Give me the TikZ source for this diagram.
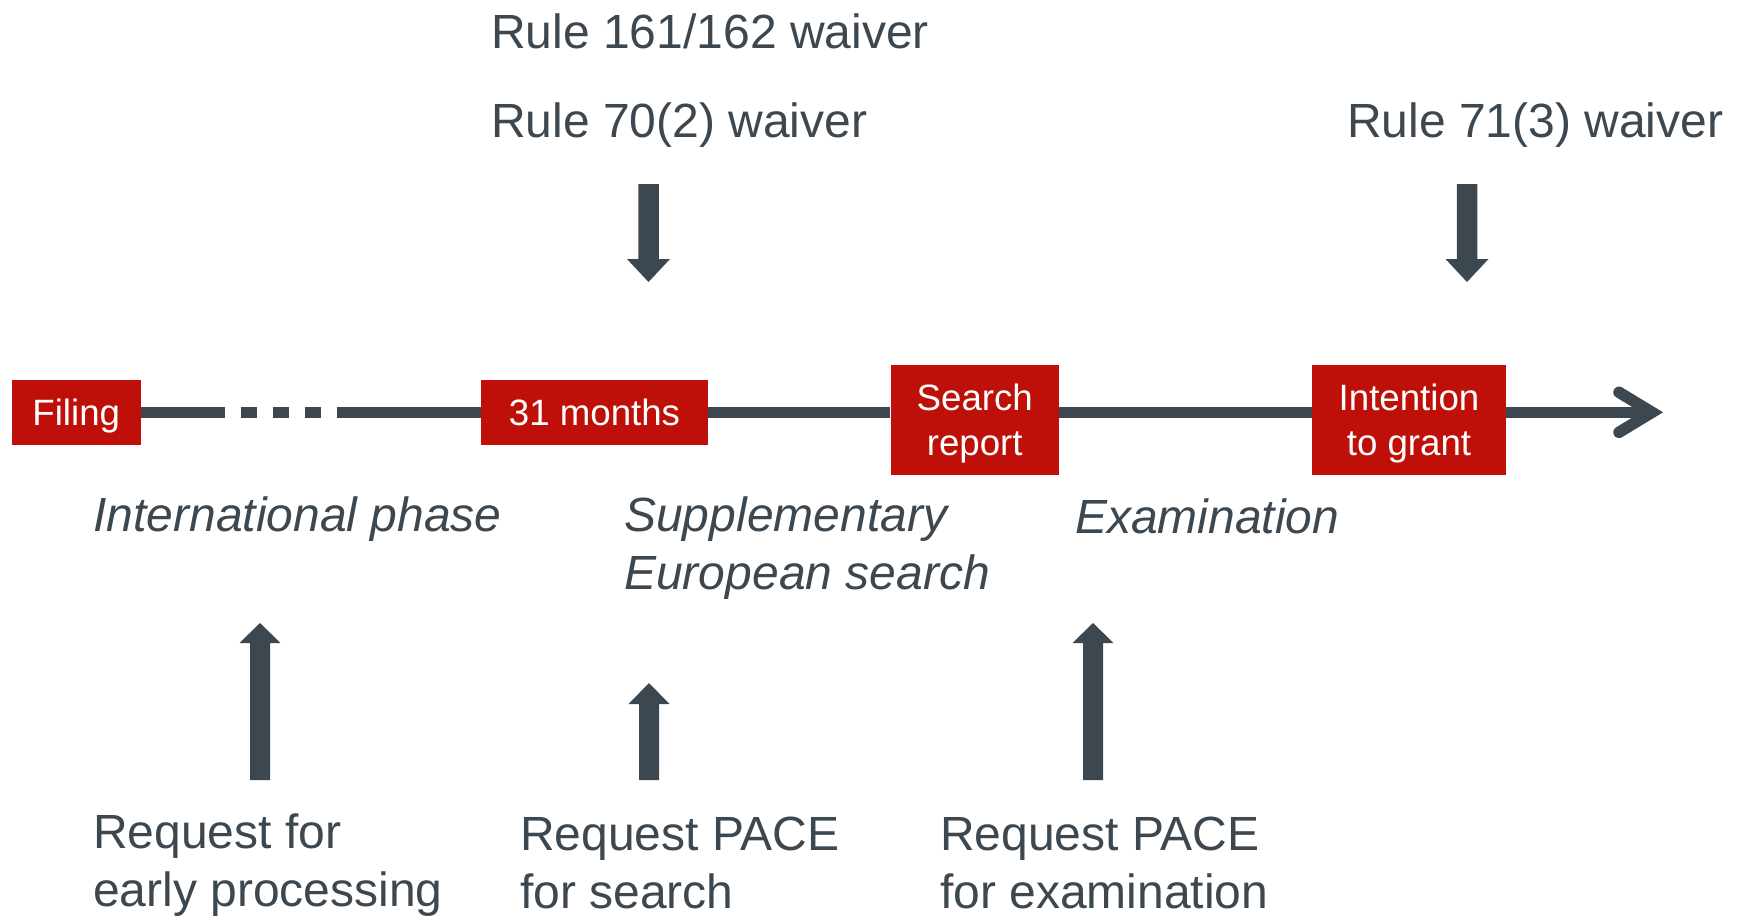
\documentclass[tikz,border=0pt]{standalone}
\usepackage{fontspec}
\setmainfont{Liberation Sans}
\usetikzlibrary{calc}
\definecolor{dk}{RGB}{60,71,80}
\definecolor{epored}{RGB}{190,16,8}
\begin{document}
\begin{tikzpicture}[x=0.75pt,y=-0.75pt,
  lbl/.style={anchor=base west, inner sep=0pt, text=dk, font=\fontsize{36}{43.5}\selectfont},
  ilbl/.style={anchor=base west, inner sep=0pt, text=dk, font=\fontsize{36}{43.5}\selectfont\itshape},
  box/.style={fill=epored, text=white, inner sep=0pt, align=center, text depth=0pt, font=\fontsize{27.5}{33.5}\selectfont},
  tl/.style={draw=dk, line width=8.6pt}]
\useasboundingbox (0,0) rectangle (1742,915);
\fill[white] (0,0) rectangle (1742,915);

% boxes on the timeline
\node[box, minimum width=96.4pt, minimum height=48.5pt] (filing) at (76.25,412.3) {Filing};
\node[box, minimum width=170.25pt, minimum height=48.5pt] (m31) at (594.5,412.3) {31 months};
\node[box, minimum width=126pt, minimum height=82.5pt] (search) at (974.75,420) {Search\\report};
\node[box, minimum width=145.5pt, minimum height=82.5pt] (intent) at (1409,420) {Intention\\to grant};

% timeline
\coordinate (tipc) at (1652,412.3);
\draw[tl, dash pattern=on 63.4pt off 12pt on 12pt off 12pt on 12pt off 12pt on 12pt off 12pt on 110pt] (filing.east) -- (m31.west);
\draw[tl] (m31.east) -- (m31.east -| search.west);
\draw[tl] (m31.east -| search.east) -- (m31.east -| intent.west);
\draw[tl] (m31.east -| intent.east) -- (tipc);
\draw[tl, line cap=round, miter limit=10] ($(tipc)+(-33,-20)$) -- (tipc) -- ($(tipc)+(-33,20)$);

% top labels
\node[lbl] (r161) at (491,48) {Rule 161/162 waiver};
\node[lbl] (r70) at (491,137) {Rule 70(2) waiver};
\node[lbl] (r71) at (1347,137) {Rule 71(3) waiver};

% phase labels
\node[ilbl] (intl) at (93,531) {International phase};
\node[ilbl] (sup1) at (624,531) {Supplementary};
\node[ilbl] (sup2) at (624,589) {European search};
\node[ilbl] (exam) at (1075,533) {Examination};

% bottom labels
\node[lbl] (req1a) at (93,848) {Request for};
\node[lbl] (req1b) at (93,906) {early processing};
\node[lbl] (req2a) at (520,850) {Request PACE};
\node[lbl] (req2b) at (520,908) {for search};
\node[lbl] (req3a) at (940,850) {Request PACE};
\node[lbl] (req3b) at (940,908) {for examination};

% down arrows
\coordinate (d1) at (648.5,184);
\coordinate (d2) at (1467,184);
\fill[dk] (d1) ++(-10.25,0) -- ++(0,75) -- ++(-11.25,0) -- ++(21.5,23) -- ++(21.5,-23) -- ++(-11.25,0) -- ++(0,-75) -- cycle;
\fill[dk] (d2) ++(-10.25,0) -- ++(0,75) -- ++(-11.25,0) -- ++(21.5,23) -- ++(21.5,-23) -- ++(-11.25,0) -- ++(0,-75) -- cycle;

% up arrows
\coordinate (u1) at (260,780);
\coordinate (u2) at (649,780);
\coordinate (u3) at (1093,780);
\fill[dk] (u1) ++(-10,0) -- ++(0,-137) -- ++(-10.5,0) -- ++(20.5,-20) -- ++(20.5,20) -- ++(-10.5,0) -- ++(0,137) -- cycle;
\fill[dk] (u2) ++(-10,0) -- ++(0,-76) -- ++(-10.5,0) -- ++(20.5,-21) -- ++(20.5,21) -- ++(-10.5,0) -- ++(0,76) -- cycle;
\fill[dk] (u3) ++(-10,0) -- ++(0,-137) -- ++(-10.5,0) -- ++(20.5,-20) -- ++(20.5,20) -- ++(-10.5,0) -- ++(0,137) -- cycle;
\end{tikzpicture}
\end{document}
